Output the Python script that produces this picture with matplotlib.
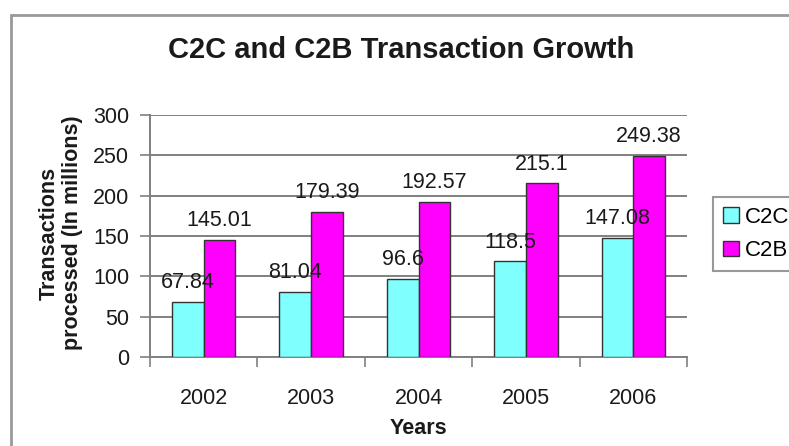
import matplotlib
matplotlib.use("Agg")
import matplotlib.pyplot as plt
from matplotlib.patches import Rectangle
import numpy as np

years = ["2002", "2003", "2004", "2005", "2006"]
c2c = [67.84, 81.04, 96.6, 118.5, 147.08]
c2b = [145.01, 179.39, 192.57, 215.1, 249.38]
series_names = ["C2C", "C2B"]
yticks = [0, 50, 100, 150, 200, 250, 300]

plt.rcParams['font.family'] = ['Liberation Sans', 'DejaVu Sans']

W, H = 789, 446
fig = plt.figure(figsize=(W / 100, H / 100), dpi=100)
fig.patch.set_facecolor('white')

ax = fig.add_axes([150 / W, 1 - 357 / H, (687 - 150) / W, (357 - 115) / H])

x = np.arange(len(years))
w = 0.295
b1 = ax.bar(x - w / 2, c2c, w, color='#80FFFF', edgecolor='#333333', linewidth=1.0, zorder=3, label=series_names[0])
b2 = ax.bar(x + w / 2, c2b, w, color='#FF00FF', edgecolor='#333333', linewidth=1.0, zorder=3, label=series_names[1])

for xs, vals in ((x - w / 2, c2c), (x + w / 2, c2b)):
    for xi, v in zip(xs, vals):
        ax.annotate(f"{v:g}", (xi, v), xytext=(0, 10), textcoords='offset points',
                    ha='center', va='baseline', fontsize=15.5, color='#1a1a1a', zorder=5)

ax.set_xlim(-0.5, len(years) - 0.5)
ax.set_ylim(0, 300)
ax.set_yticks(yticks)
ax.set_yticklabels([str(t) for t in yticks], fontsize=15.5, color='#1a1a1a')
ax.set_xticks(x)
ax.set_xticklabels(years, fontsize=15.5, color='#1a1a1a')
ax.set_xticks(np.arange(-0.5, len(years)), minor=True)
ax.tick_params(axis='x', which='major', length=0, pad=22)
ax.tick_params(axis='x', which='minor', length=7, width=1.2, color='#808080', direction='out')
ax.tick_params(axis='y', length=7, width=1.2, color='#808080', direction='out', pad=8)

ax.yaxis.grid(True, color='#808080', linewidth=1.4, zorder=0)
ax.set_axisbelow(True)
for s in ('top', 'right'):
    ax.spines[s].set_visible(False)
for s in ('left', 'bottom'):
    ax.spines[s].set_color('#808080')
    ax.spines[s].set_linewidth(1.4)

fig.text(401 / W, 1 - 50 / H, "C2C and C2B Transaction Growth", ha='center', va='center',
         fontsize=21, fontweight='bold', color='#1a1a1a')
fig.text(61 / W, 1 - 233 / H, "Transactions\nprocessed (In millions)", ha='center', va='center',
         rotation=90, fontsize=15.5, fontweight='bold', color='#1a1a1a', multialignment='center',
         linespacing=1.15)
fig.text(418 / W, 1 - 428 / H, "Years", ha='center', va='center', fontsize=15.5,
         fontweight='bold', color='#1a1a1a')

leg = fig.legend(handles=[b1, b2], labels=series_names, loc='upper left',
                 bbox_to_anchor=(713 / W, 1 - 197 / H), fontsize=16, frameon=True,
                 fancybox=False, edgecolor='#808080', handlelength=0.7, handleheight=0.7,
                 handletextpad=0.3, borderpad=0.45, labelspacing=0.55, borderaxespad=0)
leg.get_frame().set_linewidth(1.5)

fig.add_artist(Rectangle((11 / W, -0.5), 2.0, 0.5 + (1 - 15 / H), transform=fig.transFigure,
                         fill=False, edgecolor='#999999', linewidth=2))

fig.savefig("out.png", dpi=100)
